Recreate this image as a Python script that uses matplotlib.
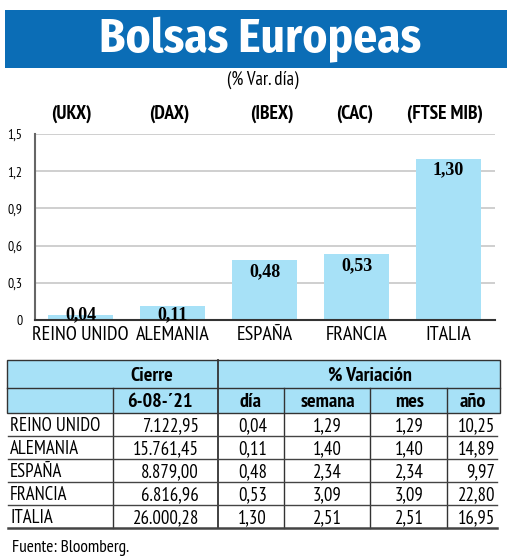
import matplotlib
matplotlib.use("Agg")
import matplotlib.pyplot as plt
from matplotlib.patches import Rectangle
from matplotlib.lines import Line2D

# data
countries = ["REINO UNIDO", "ALEMANIA", "ESPAÑA", "FRANCIA", "ITALIA"]
tickers = ["(UKX)", "(DAX)", "(IBEX)", "(CAC)", "(FTSE MIB)"]
var_dia = [0.04, 0.11, 0.48, 0.53, 1.30]
yticks = [0, 0.3, 0.6, 0.9, 1.2, 1.5]
cierre = ["7.122,95", "15.761,45", "8.879,00", "6.816,96", "26.000,28"]
dia = ["0,04", "0,11", "0,48", "0,53", "1,30"]
semana = ["1,29", "1,40", "2,34", "3,09", "2,51"]
mes = ["1,29", "1,40", "2,34", "3,09", "2,51"]
anio = ["10,25", "14,89", "9,97", "22,80", "16,95"]

W, H = 520, 559
NARROW = ["PT Sans Narrow", "DejaVu Sans"]
TITLE = ["Fira Sans Condensed", "PT Sans Narrow", "DejaVu Sans"]
SERIF = ["Liberation Serif", "DejaVu Serif"]
BLUE = "#0b6db6"
LIGHT = "#a7e1f7"

fig = plt.figure(figsize=(W / 100, H / 100), dpi=100)
fig.patch.set_facecolor("white")

def fx(x):
    return x / W

def fy(y):
    return 1 - y / H

def fmt(v):
    return f"{v:.2f}".replace(".", ",")

# title banner
fig.patches.append(Rectangle((fx(5), fy(68)), fx(502), 58 / H, transform=fig.transFigure,
                             facecolor=BLUE, edgecolor="none"))
fig.text(fx(260), fy(40), "Bolsas Europeas", color="white", fontsize=34, fontweight="bold",
         family=TITLE, ha="center", va="center")
fig.text(fx(263), fy(80), "(% Var. día)", fontsize=13.5, family=NARROW, ha="center", va="center")

# bar chart
ax = fig.add_axes([fx(35), fy(320), fx(460), (320 - 134) / H])
x = list(range(len(countries)))
bars = ax.bar(x, var_dia, width=0.71, color=LIGHT, zorder=2)
ax.set_xlim(-0.495, 4.505)
ax.set_ylim(0, 1.5)
ax.set_yticks(yticks)
ax.set_yticklabels([("%.1f" % t).replace(".", ",") if t else "0" for t in yticks],
                   family=NARROW, fontsize=10)
ax.yaxis.grid(True, color="#cccccc", lw=1.3, zorder=0)
ax.set_xticks(x)
ax.set_xticklabels(countries, family=NARROW, fontsize=14.5)
ax.tick_params(axis="x", length=0, pad=4)
ax.tick_params(axis="y", length=0, pad=9)
for s in ["top", "right"]:
    ax.spines[s].set_visible(False)
ax.spines["left"].set_color("#666666")
ax.spines["left"].set_linewidth(1.5)
ax.spines["bottom"].set_color("#333333")
ax.spines["bottom"].set_linewidth(1.5)
ax.spines["bottom"].set_zorder(3)
for b, v in zip(bars, var_dia):
    ypos = max(v - 0.09, 0.045)
    ax.text(b.get_x() + b.get_width() / 2, ypos, fmt(v), ha="center", va="center",
            family=SERIF, fontweight="bold", fontsize=13, zorder=4)

# ticker labels above the plot
ticker_px = [71, 169, 272, 355, 445]
for t, xp in zip(tickers, ticker_px):
    fig.text(fx(xp), fy(114), t, ha="center", va="center", family=NARROW,
             fontweight="bold", fontsize=14)

# table
def hline(y, x0=7, x1=500, lw=1.0, c="#333333"):
    fig.add_artist(Line2D([fx(x0), fx(x1)], [fy(y), fy(y)], color=c, lw=lw, transform=fig.transFigure))

def vline(x, y0, y1, lw=1.0, c="#333333"):
    fig.add_artist(Line2D([fx(x), fx(x)], [fy(y0), fy(y1)], color=c, lw=lw, transform=fig.transFigure))

fig.patches.append(Rectangle((fx(7), fy(413)), fx(493), 53 / H, transform=fig.transFigure,
                             facecolor=LIGHT, edgecolor="#333333", lw=1.0))
hline(388)
vline(218, 360, 528, lw=1.3)
vline(113, 388, 528)
for xv in [284, 370, 447]:
    vline(xv, 388, 528)

fig.text(fx(152), fy(376), "Cierre", family=NARROW, fontweight="bold", fontsize=14.5, ha="center", va="center")
fig.text(fx(370), fy(376), "% Variación", family=NARROW, fontweight="bold", fontsize=14.5, ha="center", va="center")
head2 = [("6-08-´21", 160), ("día", 250), ("semana", 328), ("mes", 410), ("año", 473)]
for txt, xc in head2:
    fig.text(fx(xc), fy(402), txt, family=NARROW, fontweight="bold", fontsize=14.5, ha="center", va="center")

row_top = 413
row_h = 23
cols = [(cierre, 199), (dia, 267), (semana, 342), (mes, 424), (anio, 495)]
for r, name in enumerate(countries):
    yc = row_top + row_h * r + 13
    fig.text(fx(10), fy(yc), name, family=NARROW, fontsize=13.5, ha="left", va="center")
    for vals, xr in cols:
        fig.text(fx(xr), fy(yc), vals[r], family=NARROW, fontsize=13.5, ha="right", va="center")
    yb = row_top + row_h * (r + 1)
    hline(yb, 8, 497, lw=1.8 if r == len(countries) - 1 else 1.0, c="#444444")

fig.text(fx(12), fy(548), "Fuente: Bloomberg.", family=NARROW, fontsize=12.5, ha="left", va="center")

fig.savefig("out.png", dpi=100)
